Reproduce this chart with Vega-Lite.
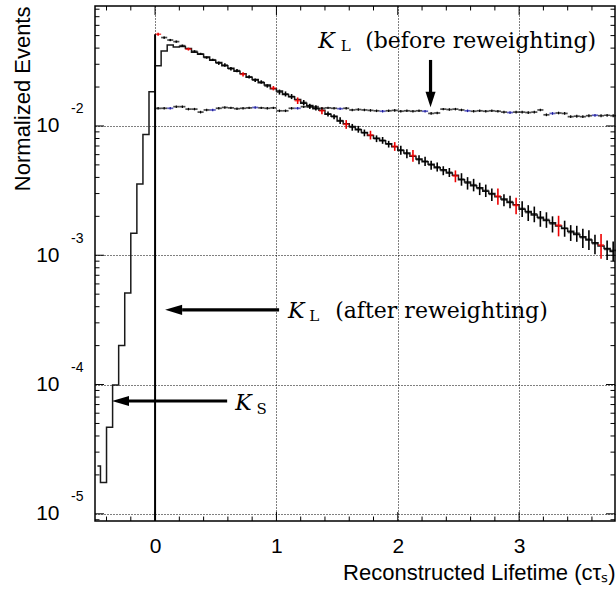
{
 "$schema": "https://vega.github.io/schema/vega-lite/v6.json",
 "width": 520, "height": 515,
 "autosize": {"type": "none"},
 "padding": {"left": 95, "top": 6, "right": 1, "bottom": 68},
 "background": "white",
 "config": {
  "view": {"stroke": "#000", "strokeWidth": 1.5},
  "axis": {"domain": false, "labelFont": "Liberation Sans", "titleFont": "Liberation Sans", "labelColor": "#000", "titleColor": "#000", "titleFontWeight": "normal", "labelOverlap": false, "labelFlush": false}
 },
 "datasets": {
  "ks": [
   {"x": -0.475, "v": 2.34e-5}, {"x": -0.425, "v": 1.75e-5}, {"x": -0.375, "v": 4.68e-5}, {"x": -0.325, "v": 9.9e-5},
   {"x": -0.275, "v": 2.0e-4}, {"x": -0.225, "v": 5.1e-4}, {"x": -0.175, "v": 1.48e-3}, {"x": -0.125, "v": 3.56e-3},
   {"x": -0.075, "v": 8.6e-3}, {"x": -0.025, "v": 0.0184}, {"x": 0.025, "v": 0.0292}, {"x": 0.075, "v": 0.038},
   {"x": 0.125, "v": 0.0423}, {"x": 0.175, "v": 0.0408}, {"x": 0.225, "v": 0.0412}, {"x": 0.275, "v": 0.0397},
   {"x": 0.325, "v": 0.0372}, {"x": 0.375, "v": 0.0358}, {"x": 0.425, "v": 0.0342}, {"x": 0.475, "v": 0.0322},
   {"x": 0.525, "v": 0.0309}, {"x": 0.575, "v": 0.0292}, {"x": 0.625, "v": 0.0280}, {"x": 0.675, "v": 0.0265},
   {"x": 0.725, "v": 0.0253}, {"x": 0.775, "v": 0.0238}, {"x": 0.825, "v": 0.0229}, {"x": 0.875, "v": 0.0216},
   {"x": 0.925, "v": 0.0207}, {"x": 0.975, "v": 0.0194}, {"x": 1.025, "v": 0.0186}, {"x": 1.075, "v": 0.0175},
   {"x": 1.125, "v": 0.0168}, {"x": 1.175, "v": 0.0160}, {"x": 1.225, "v": 0.0150}, {"x": 1.275, "v": 0.0144},
   {"x": 1.325, "v": 0.0136}, {"x": 1.375, "v": 0.0132}, {"x": 1.425, "v": 0.0123}, {"x": 1.475, "v": 0.0119},
   {"x": 1.525, "v": 0.0109}, {"x": 1.575, "v": 0.0104}, {"x": 1.625, "v": 0.00990}, {"x": 1.675, "v": 0.00935},
   {"x": 1.725, "v": 0.00892}, {"x": 1.775, "v": 0.00845}, {"x": 1.825, "v": 0.00805}, {"x": 1.875, "v": 0.00768},
   {"x": 1.925, "v": 0.00730}, {"x": 1.975, "v": 0.00690}, {"x": 2.025, "v": 0.00645}, {"x": 2.075, "v": 0.00618},
   {"x": 2.125, "v": 0.00582}, {"x": 2.175, "v": 0.00556}, {"x": 2.225, "v": 0.00528}, {"x": 2.275, "v": 0.00506},
   {"x": 2.325, "v": 0.00476}, {"x": 2.375, "v": 0.00458}, {"x": 2.425, "v": 0.00432}, {"x": 2.475, "v": 0.00415},
   {"x": 2.525, "v": 0.00384}, {"x": 2.575, "v": 0.00368}, {"x": 2.625, "v": 0.00345}, {"x": 2.675, "v": 0.00332},
   {"x": 2.725, "v": 0.00312}, {"x": 2.775, "v": 0.00300}, {"x": 2.825, "v": 0.00283}, {"x": 2.875, "v": 0.00272},
   {"x": 2.925, "v": 0.00256}, {"x": 2.975, "v": 0.00246}, {"x": 3.025, "v": 0.00227}, {"x": 3.075, "v": 0.00218},
   {"x": 3.125, "v": 0.00205}, {"x": 3.175, "v": 0.00197}, {"x": 3.225, "v": 0.00186}, {"x": 3.275, "v": 0.00178},
   {"x": 3.325, "v": 0.00168}, {"x": 3.375, "v": 0.00161}, {"x": 3.425, "v": 0.00153}, {"x": 3.475, "v": 0.00145},
   {"x": 3.525, "v": 0.00139}, {"x": 3.575, "v": 0.00131}, {"x": 3.625, "v": 0.00125}, {"x": 3.675, "v": 0.00118},
   {"x": 3.725, "v": 0.00113}, {"x": 3.775, "v": 0.00107}
  ],
  "kl": [
   {"x": 0.025, "v": 0.0512, "e": 0.0013, "c": "#ee0000"}, {"x": 0.075, "v": 0.0483, "e": 0.00097, "c": "#000"},
   {"x": 0.125, "v": 0.0462, "e": 0.00092, "c": "#000"}, {"x": 0.175, "v": 0.0449, "e": 0.0009, "c": "#000"},
   {"x": 0.225, "v": 0.0418, "e": 0.00084, "c": "#000"}, {"x": 0.275, "v": 0.0393, "e": 0.001, "c": "#ee0000"},
   {"x": 0.325, "v": 0.0378, "e": 0.00076, "c": "#000"}, {"x": 0.375, "v": 0.0361, "e": 0.00072, "c": "#000"},
   {"x": 0.425, "v": 0.0338, "e": 0.00068, "c": "#000"}, {"x": 0.475, "v": 0.0325, "e": 0.00065, "c": "#000"},
   {"x": 0.525, "v": 0.0306, "e": 0.00092, "c": "#000"}, {"x": 0.575, "v": 0.0296, "e": 0.00089, "c": "#000"},
   {"x": 0.625, "v": 0.0277, "e": 0.00083, "c": "#000"}, {"x": 0.675, "v": 0.0268, "e": 0.0008, "c": "#000"},
   {"x": 0.725, "v": 0.0251, "e": 0.00098, "c": "#ee0000"}, {"x": 0.775, "v": 0.0240, "e": 0.00072, "c": "#000"},
   {"x": 0.825, "v": 0.0226, "e": 0.00068, "c": "#000"}, {"x": 0.875, "v": 0.0219, "e": 0.00066, "c": "#000"},
   {"x": 0.925, "v": 0.0204, "e": 0.00061, "c": "#000"}, {"x": 0.975, "v": 0.0196, "e": 0.00076, "c": "#ee0000"},
   {"x": 1.025, "v": 0.0183, "e": 0.00082, "c": "#000"}, {"x": 1.075, "v": 0.0177, "e": 0.0008, "c": "#000"},
   {"x": 1.125, "v": 0.0169, "e": 0.00076, "c": "#000"}, {"x": 1.175, "v": 0.0157, "e": 0.00092, "c": "#ee0000"},
   {"x": 1.225, "v": 0.0152, "e": 0.00068, "c": "#000"}, {"x": 1.275, "v": 0.0142, "e": 0.00064, "c": "#000"},
   {"x": 1.325, "v": 0.0138, "e": 0.00062, "c": "#000"}, {"x": 1.375, "v": 0.0131, "e": 0.00077, "c": "#ee0000"},
   {"x": 1.425, "v": 0.0124, "e": 0.00056, "c": "#000"}, {"x": 1.475, "v": 0.0118, "e": 0.00053, "c": "#000"},
   {"x": 1.525, "v": 0.0110, "e": 0.00066, "c": "#000"}, {"x": 1.575, "v": 0.0103, "e": 0.0008, "c": "#ee0000"},
   {"x": 1.625, "v": 0.00978, "e": 0.00059, "c": "#000"}, {"x": 1.675, "v": 0.00944, "e": 0.00057, "c": "#000"},
   {"x": 1.725, "v": 0.00885, "e": 0.00053, "c": "#000"}, {"x": 1.775, "v": 0.00852, "e": 0.00066, "c": "#ee0000"},
   {"x": 1.825, "v": 0.00798, "e": 0.00048, "c": "#000"}, {"x": 1.875, "v": 0.00775, "e": 0.00047, "c": "#000"},
   {"x": 1.925, "v": 0.00724, "e": 0.00043, "c": "#000"}, {"x": 1.975, "v": 0.00696, "e": 0.00054, "c": "#ee0000"},
   {"x": 2.025, "v": 0.00652, "e": 0.00052, "c": "#000"}, {"x": 2.075, "v": 0.00611, "e": 0.00049, "c": "#000"},
   {"x": 2.125, "v": 0.00590, "e": 0.00061, "c": "#ee0000"}, {"x": 2.175, "v": 0.00549, "e": 0.00044, "c": "#000"},
   {"x": 2.225, "v": 0.00534, "e": 0.00043, "c": "#000"}, {"x": 2.275, "v": 0.00499, "e": 0.0004, "c": "#000"},
   {"x": 2.325, "v": 0.00483, "e": 0.00039, "c": "#000"}, {"x": 2.375, "v": 0.00452, "e": 0.00036, "c": "#000"},
   {"x": 2.425, "v": 0.00438, "e": 0.00035, "c": "#000"}, {"x": 2.475, "v": 0.00410, "e": 0.00043, "c": "#ee0000"},
   {"x": 2.525, "v": 0.00388, "e": 0.00043, "c": "#000"}, {"x": 2.575, "v": 0.00362, "e": 0.0004, "c": "#000"},
   {"x": 2.625, "v": 0.00351, "e": 0.00039, "c": "#000"}, {"x": 2.675, "v": 0.00328, "e": 0.00036, "c": "#000"},
   {"x": 2.725, "v": 0.00317, "e": 0.00035, "c": "#000"}, {"x": 2.775, "v": 0.00296, "e": 0.00033, "c": "#000"},
   {"x": 2.825, "v": 0.00287, "e": 0.00041, "c": "#ee0000"}, {"x": 2.875, "v": 0.00268, "e": 0.00029, "c": "#000"},
   {"x": 2.925, "v": 0.00260, "e": 0.00029, "c": "#000"}, {"x": 2.975, "v": 0.00243, "e": 0.00035, "c": "#ee0000"},
   {"x": 3.025, "v": 0.00230, "e": 0.00032, "c": "#000"}, {"x": 3.075, "v": 0.00214, "e": 0.0003, "c": "#000"},
   {"x": 3.125, "v": 0.00209, "e": 0.00029, "c": "#000"}, {"x": 3.175, "v": 0.00193, "e": 0.00027, "c": "#000"},
   {"x": 3.225, "v": 0.00189, "e": 0.00026, "c": "#000"}, {"x": 3.275, "v": 0.00175, "e": 0.00025, "c": "#000"},
   {"x": 3.325, "v": 0.00171, "e": 0.00031, "c": "#ee0000"}, {"x": 3.375, "v": 0.00162, "e": 0.00023, "c": "#000"},
   {"x": 3.425, "v": 0.00150, "e": 0.00021, "c": "#000"}, {"x": 3.475, "v": 0.00148, "e": 0.00021, "c": "#000"},
   {"x": 3.525, "v": 0.00137, "e": 0.00023, "c": "#000"}, {"x": 3.575, "v": 0.00133, "e": 0.00023, "c": "#000"},
   {"x": 3.625, "v": 0.00123, "e": 0.00021, "c": "#000"}, {"x": 3.675, "v": 0.00120, "e": 0.00026, "c": "#ee0000"},
   {"x": 3.725, "v": 0.00111, "e": 0.00019, "c": "#000"}, {"x": 3.775, "v": 0.00109, "e": 0.00019, "c": "#000"}
  ],
  "bef": [
   {"x": 0.025, "v": 0.0137, "e": 0.0003, "c": "#000"}, {"x": 0.075, "v": 0.0137, "e": 0.0003, "c": "#000"}, {"x": 0.125, "v": 0.0137, "e": 0.0003, "c": "#1a1aa0"},
   {"x": 0.175, "v": 0.0141, "e": 0.0003, "c": "#000"}, {"x": 0.225, "v": 0.0141, "e": 0.0003, "c": "#000"}, {"x": 0.275, "v": 0.0135, "e": 0.0003, "c": "#000"},
   {"x": 0.325, "v": 0.0135, "e": 0.0003, "c": "#000"}, {"x": 0.375, "v": 0.0128, "e": 0.0003, "c": "#000"}, {"x": 0.425, "v": 0.0133, "e": 0.0003, "c": "#000"},
   {"x": 0.475, "v": 0.0133, "e": 0.0003, "c": "#1a1aa0"}, {"x": 0.525, "v": 0.0137, "e": 0.0003, "c": "#000"}, {"x": 0.575, "v": 0.0139, "e": 0.0003, "c": "#000"},
   {"x": 0.625, "v": 0.0138, "e": 0.0003, "c": "#000"}, {"x": 0.675, "v": 0.0136, "e": 0.0003, "c": "#000"}, {"x": 0.725, "v": 0.0137, "e": 0.0003, "c": "#000"},
   {"x": 0.775, "v": 0.0138, "e": 0.0003, "c": "#000"}, {"x": 0.825, "v": 0.0139, "e": 0.0003, "c": "#1a1aa0"}, {"x": 0.875, "v": 0.0138, "e": 0.0003, "c": "#000"},
   {"x": 0.925, "v": 0.0137, "e": 0.0003, "c": "#000"}, {"x": 0.975, "v": 0.0138, "e": 0.0003, "c": "#000"}, {"x": 1.025, "v": 0.0131, "e": 0.0003, "c": "#000"},
   {"x": 1.075, "v": 0.0131, "e": 0.0003, "c": "#000"}, {"x": 1.125, "v": 0.0137, "e": 0.0003, "c": "#000"}, {"x": 1.175, "v": 0.0137, "e": 0.0003, "c": "#1a1aa0"},
   {"x": 1.225, "v": 0.0141, "e": 0.0003, "c": "#000"}, {"x": 1.275, "v": 0.0140, "e": 0.0003, "c": "#000"}, {"x": 1.325, "v": 0.0141, "e": 0.0003, "c": "#000"},
   {"x": 1.375, "v": 0.0137, "e": 0.0003, "c": "#000"}, {"x": 1.425, "v": 0.0138, "e": 0.0003, "c": "#000"}, {"x": 1.475, "v": 0.0137, "e": 0.0003, "c": "#000"},
   {"x": 1.525, "v": 0.0136, "e": 0.0003, "c": "#1a1aa0"}, {"x": 1.575, "v": 0.0137, "e": 0.0003, "c": "#000"}, {"x": 1.625, "v": 0.0133, "e": 0.0003, "c": "#000"},
   {"x": 1.675, "v": 0.0134, "e": 0.0003, "c": "#000"}, {"x": 1.725, "v": 0.0133, "e": 0.0003, "c": "#000"}, {"x": 1.775, "v": 0.0132, "e": 0.0003, "c": "#000"},
   {"x": 1.825, "v": 0.0131, "e": 0.0003, "c": "#000"}, {"x": 1.875, "v": 0.0130, "e": 0.0003, "c": "#1a1aa0"}, {"x": 1.925, "v": 0.0131, "e": 0.0003, "c": "#000"},
   {"x": 1.975, "v": 0.0132, "e": 0.0003, "c": "#000"}, {"x": 2.025, "v": 0.0130, "e": 0.0003, "c": "#000"}, {"x": 2.075, "v": 0.0131, "e": 0.0003, "c": "#000"},
   {"x": 2.125, "v": 0.0130, "e": 0.0003, "c": "#000"}, {"x": 2.175, "v": 0.0131, "e": 0.0003, "c": "#000"}, {"x": 2.225, "v": 0.0130, "e": 0.0003, "c": "#1a1aa0"},
   {"x": 2.275, "v": 0.0125, "e": 0.0003, "c": "#000"}, {"x": 2.325, "v": 0.0126, "e": 0.0003, "c": "#000"}, {"x": 2.375, "v": 0.0135, "e": 0.0003, "c": "#000"},
   {"x": 2.425, "v": 0.0134, "e": 0.0003, "c": "#000"}, {"x": 2.475, "v": 0.0135, "e": 0.0003, "c": "#000"}, {"x": 2.525, "v": 0.0133, "e": 0.0003, "c": "#000"},
   {"x": 2.575, "v": 0.0131, "e": 0.0003, "c": "#1a1aa0"}, {"x": 2.625, "v": 0.0130, "e": 0.0003, "c": "#000"}, {"x": 2.675, "v": 0.0131, "e": 0.0003, "c": "#000"},
   {"x": 2.725, "v": 0.0130, "e": 0.0003, "c": "#000"}, {"x": 2.775, "v": 0.0131, "e": 0.0003, "c": "#000"}, {"x": 2.825, "v": 0.0130, "e": 0.0003, "c": "#000"},
   {"x": 2.875, "v": 0.0128, "e": 0.0003, "c": "#000"}, {"x": 2.925, "v": 0.0127, "e": 0.0003, "c": "#1a1aa0"}, {"x": 2.975, "v": 0.0128, "e": 0.0003, "c": "#000"},
   {"x": 3.025, "v": 0.0128, "e": 0.0003, "c": "#000"}, {"x": 3.075, "v": 0.0127, "e": 0.0003, "c": "#000"}, {"x": 3.125, "v": 0.0128, "e": 0.0003, "c": "#000"},
   {"x": 3.175, "v": 0.0133, "e": 0.0003, "c": "#000"}, {"x": 3.225, "v": 0.0122, "e": 0.0003, "c": "#000"}, {"x": 3.275, "v": 0.0125, "e": 0.0003, "c": "#1a1aa0"},
   {"x": 3.325, "v": 0.0126, "e": 0.0003, "c": "#000"}, {"x": 3.375, "v": 0.0125, "e": 0.0003, "c": "#000"}, {"x": 3.425, "v": 0.0118, "e": 0.0003, "c": "#000"},
   {"x": 3.475, "v": 0.0119, "e": 0.0003, "c": "#000"}, {"x": 3.525, "v": 0.0118, "e": 0.0003, "c": "#000"}, {"x": 3.575, "v": 0.0120, "e": 0.0003, "c": "#000"},
   {"x": 3.625, "v": 0.0121, "e": 0.0003, "c": "#1a1aa0"}, {"x": 3.675, "v": 0.0120, "e": 0.0003, "c": "#000"}, {"x": 3.725, "v": 0.0121, "e": 0.0003, "c": "#000"},
   {"x": 3.775, "v": 0.0120, "e": 0.0003, "c": "#000"}
  ],
  "xt": [
   {"x": 0, "y": 8.8e-6, "y2": 1.033e-5}, {"x": 1, "y": 8.8e-6, "y2": 1.033e-5}, {"x": 2, "y": 8.8e-6, "y2": 1.033e-5}, {"x": 3, "y": 8.8e-6, "y2": 1.033e-5},
   {"x": 0, "y": 0.0847, "y2": 0.0721}, {"x": 1, "y": 0.0847, "y2": 0.0721}, {"x": 2, "y": 0.0847, "y2": 0.0721}, {"x": 3, "y": 0.0847, "y2": 0.0721},
   {"x": -0.4, "y": 8.8e-6, "y2": 9.53e-6}, {"x": -0.2, "y": 8.8e-6, "y2": 9.53e-6}, {"x": 0.2, "y": 8.8e-6, "y2": 9.53e-6}, {"x": 0.4, "y": 8.8e-6, "y2": 9.53e-6},
   {"x": 0.6, "y": 8.8e-6, "y2": 9.53e-6}, {"x": 0.8, "y": 8.8e-6, "y2": 9.53e-6}, {"x": 1.2, "y": 8.8e-6, "y2": 9.53e-6}, {"x": 1.4, "y": 8.8e-6, "y2": 9.53e-6},
   {"x": 1.6, "y": 8.8e-6, "y2": 9.53e-6}, {"x": 1.8, "y": 8.8e-6, "y2": 9.53e-6}, {"x": 2.2, "y": 8.8e-6, "y2": 9.53e-6}, {"x": 2.4, "y": 8.8e-6, "y2": 9.53e-6},
   {"x": 2.6, "y": 8.8e-6, "y2": 9.53e-6}, {"x": 2.8, "y": 8.8e-6, "y2": 9.53e-6}, {"x": 3.2, "y": 8.8e-6, "y2": 9.53e-6}, {"x": 3.4, "y": 8.8e-6, "y2": 9.53e-6},
   {"x": 3.6, "y": 8.8e-6, "y2": 9.53e-6},
   {"x": -0.4, "y": 0.0847, "y2": 0.0782}, {"x": -0.2, "y": 0.0847, "y2": 0.0782}, {"x": 0.2, "y": 0.0847, "y2": 0.0782}, {"x": 0.4, "y": 0.0847, "y2": 0.0782},
   {"x": 0.6, "y": 0.0847, "y2": 0.0782}, {"x": 0.8, "y": 0.0847, "y2": 0.0782}, {"x": 1.2, "y": 0.0847, "y2": 0.0782}, {"x": 1.4, "y": 0.0847, "y2": 0.0782},
   {"x": 1.6, "y": 0.0847, "y2": 0.0782}, {"x": 1.8, "y": 0.0847, "y2": 0.0782}, {"x": 2.2, "y": 0.0847, "y2": 0.0782}, {"x": 2.4, "y": 0.0847, "y2": 0.0782},
   {"x": 2.6, "y": 0.0847, "y2": 0.0782}, {"x": 2.8, "y": 0.0847, "y2": 0.0782}, {"x": 3.2, "y": 0.0847, "y2": 0.0782}, {"x": 3.4, "y": 0.0847, "y2": 0.0782},
   {"x": 3.6, "y": 0.0847, "y2": 0.0782}
  ],
  "yt": [
   {"y": 1e-5, "x": -0.495, "x2": -0.4208}, {"y": 1e-4, "x": -0.495, "x2": -0.4208}, {"y": 1e-3, "x": -0.495, "x2": -0.4208}, {"y": 1e-2, "x": -0.495, "x2": -0.4208},
   {"y": 1e-5, "x": 3.79, "x2": 3.7158}, {"y": 1e-4, "x": 3.79, "x2": 3.7158}, {"y": 1e-3, "x": 3.79, "x2": 3.7158}, {"y": 1e-2, "x": 3.79, "x2": 3.7158},
   {"y": 9e-6, "x": -0.495, "x2": -0.4579}, {"y": 2e-5, "x": -0.495, "x2": -0.4579}, {"y": 3e-5, "x": -0.495, "x2": -0.4579}, {"y": 4e-5, "x": -0.495, "x2": -0.4579},
   {"y": 5e-5, "x": -0.495, "x2": -0.4579}, {"y": 6e-5, "x": -0.495, "x2": -0.4579}, {"y": 7e-5, "x": -0.495, "x2": -0.4579}, {"y": 8e-5, "x": -0.495, "x2": -0.4579},
   {"y": 9e-5, "x": -0.495, "x2": -0.4579}, {"y": 2e-4, "x": -0.495, "x2": -0.4579}, {"y": 3e-4, "x": -0.495, "x2": -0.4579}, {"y": 4e-4, "x": -0.495, "x2": -0.4579},
   {"y": 5e-4, "x": -0.495, "x2": -0.4579}, {"y": 6e-4, "x": -0.495, "x2": -0.4579}, {"y": 7e-4, "x": -0.495, "x2": -0.4579}, {"y": 8e-4, "x": -0.495, "x2": -0.4579},
   {"y": 9e-4, "x": -0.495, "x2": -0.4579}, {"y": 2e-3, "x": -0.495, "x2": -0.4579}, {"y": 3e-3, "x": -0.495, "x2": -0.4579}, {"y": 4e-3, "x": -0.495, "x2": -0.4579},
   {"y": 5e-3, "x": -0.495, "x2": -0.4579}, {"y": 6e-3, "x": -0.495, "x2": -0.4579}, {"y": 7e-3, "x": -0.495, "x2": -0.4579}, {"y": 8e-3, "x": -0.495, "x2": -0.4579},
   {"y": 9e-3, "x": -0.495, "x2": -0.4579}, {"y": 2e-2, "x": -0.495, "x2": -0.4579}, {"y": 3e-2, "x": -0.495, "x2": -0.4579}, {"y": 4e-2, "x": -0.495, "x2": -0.4579},
   {"y": 5e-2, "x": -0.495, "x2": -0.4579}, {"y": 6e-2, "x": -0.495, "x2": -0.4579}, {"y": 7e-2, "x": -0.495, "x2": -0.4579}, {"y": 8e-2, "x": -0.495, "x2": -0.4579},
   {"y": 9e-6, "x": 3.79, "x2": 3.7529}, {"y": 2e-5, "x": 3.79, "x2": 3.7529}, {"y": 3e-5, "x": 3.79, "x2": 3.7529}, {"y": 4e-5, "x": 3.79, "x2": 3.7529},
   {"y": 5e-5, "x": 3.79, "x2": 3.7529}, {"y": 6e-5, "x": 3.79, "x2": 3.7529}, {"y": 7e-5, "x": 3.79, "x2": 3.7529}, {"y": 8e-5, "x": 3.79, "x2": 3.7529},
   {"y": 9e-5, "x": 3.79, "x2": 3.7529}, {"y": 2e-4, "x": 3.79, "x2": 3.7529}, {"y": 3e-4, "x": 3.79, "x2": 3.7529}, {"y": 4e-4, "x": 3.79, "x2": 3.7529},
   {"y": 5e-4, "x": 3.79, "x2": 3.7529}, {"y": 6e-4, "x": 3.79, "x2": 3.7529}, {"y": 7e-4, "x": 3.79, "x2": 3.7529}, {"y": 8e-4, "x": 3.79, "x2": 3.7529},
   {"y": 9e-4, "x": 3.79, "x2": 3.7529}, {"y": 2e-3, "x": 3.79, "x2": 3.7529}, {"y": 3e-3, "x": 3.79, "x2": 3.7529}, {"y": 4e-3, "x": 3.79, "x2": 3.7529},
   {"y": 5e-3, "x": 3.79, "x2": 3.7529}, {"y": 6e-3, "x": 3.79, "x2": 3.7529}, {"y": 7e-3, "x": 3.79, "x2": 3.7529}, {"y": 8e-3, "x": 3.79, "x2": 3.7529},
   {"y": 9e-3, "x": 3.79, "x2": 3.7529}, {"y": 2e-2, "x": 3.79, "x2": 3.7529}, {"y": 3e-2, "x": 3.79, "x2": 3.7529}, {"y": 4e-2, "x": 3.79, "x2": 3.7529},
   {"y": 5e-2, "x": 3.79, "x2": 3.7529}, {"y": 6e-2, "x": 3.79, "x2": 3.7529}, {"y": 7e-2, "x": 3.79, "x2": 3.7529}, {"y": 8e-2, "x": 3.79, "x2": 3.7529}
  ]
 },
 "resolve": {"axis": {"x": "independent", "y": "independent"}},
 "layer": [
  {
   "data": {"name": "ks"},
   "mark": {"type": "line", "interpolate": "step", "color": "#1a1a1a", "strokeWidth": 1.5, "clip": true},
   "encoding": {
    "x": {"field": "x", "type": "quantitative", "scale": {"domain": [-0.495, 3.79], "nice": false, "zero": false},
     "axis": {"orient": "bottom", "values": [0, 1, 2, 3], "format": "d", "ticks": false, "grid": true, "gridDash": [1, 2], "gridColor": "#000", "gridWidth": 1, "labelFontSize": 21, "labelPadding": 14,
      "title": "Reconstructed Lifetime (cτₛ)", "titleFontSize": 22, "titleAnchor": "end", "titlePadding": 6}},
    "y": {"field": "v", "type": "quantitative", "scale": {"type": "log", "domain": [8.8e-6, 0.0847], "nice": false},
     "axis": {"orient": "left", "values": [1e-5, 1e-4, 1e-3, 1e-2], "labelExpr": "'10'", "ticks": false, "grid": true, "gridDash": [1, 2], "gridColor": "#000", "gridWidth": 1, "labelFontSize": 21, "labelPadding": 36, "labelBaseline": "middle",
      "title": "Normalized Events", "titleFontSize": 22, "titleAnchor": "end", "titlePadding": 1}}
   }
  },
  {
   "data": {"name": "kl"},
   "mark": {"type": "tick", "orient": "horizontal", "size": 6.1, "thickness": 1.7},
   "encoding": {
    "x": {"field": "x", "type": "quantitative", "axis": null},
    "y": {"field": "v", "type": "quantitative",
     "axis": {"orient": "left", "values": [1e-5, 1e-4, 1e-3, 1e-2], "ticks": false, "grid": false, "title": null, "labelFontSize": 14, "labelPadding": 12, "labelOffset": -17, "labelBaseline": "middle",
      "labelExpr": "datum.value < 5e-5 ? '-5' : datum.value < 5e-4 ? '-4' : datum.value < 5e-3 ? '-3' : '-2'"}},
    "color": {"field": "c", "type": "nominal", "scale": null}
   }
  },
  {
   "data": {"name": "kl"},
   "mark": {"type": "errorbar", "thickness": 1.6},
   "encoding": {
    "x": {"field": "x", "type": "quantitative", "axis": null},
    "y": {"field": "v", "type": "quantitative", "axis": null},
    "yError": {"field": "e"},
    "color": {"field": "c", "type": "nominal", "scale": null}
   }
  },
  {
   "data": {"name": "bef"},
   "mark": {"type": "tick", "orient": "horizontal", "size": 6.1, "thickness": 1.7},
   "encoding": {
    "x": {"field": "x", "type": "quantitative", "axis": null},
    "y": {"field": "v", "type": "quantitative", "axis": null},
    "color": {"field": "c", "type": "nominal", "scale": null}
   }
  },
  {
   "data": {"name": "bef"},
   "mark": {"type": "errorbar", "thickness": 1.2},
   "encoding": {
    "x": {"field": "x", "type": "quantitative", "axis": null},
    "y": {"field": "v", "type": "quantitative", "axis": null},
    "yError": {"field": "e"},
    "color": {"field": "c", "type": "nominal", "scale": null}
   }
  },
  {
   "data": {"name": "xt"},
   "mark": {"type": "rule", "color": "#000", "strokeWidth": 1},
   "encoding": {"x": {"field": "x", "type": "quantitative", "axis": null}, "y": {"field": "y", "type": "quantitative", "axis": null}, "y2": {"field": "y2"}}
  },
  {
   "data": {"name": "yt"},
   "mark": {"type": "rule", "color": "#000", "strokeWidth": 1},
   "encoding": {"x": {"field": "x", "type": "quantitative", "axis": null}, "x2": {"field": "x2"}, "y": {"field": "y", "type": "quantitative", "axis": null}}
  },
  {
   "data": {"values": [{"x": 0, "y": 8.8e-6, "y2": 0.0512}]},
   "mark": {"type": "rule", "color": "#000", "strokeWidth": 2},
   "encoding": {"x": {"field": "x", "type": "quantitative", "axis": null}, "y": {"field": "y", "type": "quantitative", "axis": null}, "y2": {"field": "y2"}}
  },
  {
   "data": {"values": [
    {"x": 2.27, "x2": 2.27, "y": 0.0324, "y2": 0.0183},
    {"x": 0.223, "x2": 1.022, "y": 3.78e-4, "y2": 3.78e-4},
    {"x": -0.223, "x2": 0.594, "y": 7.46e-5, "y2": 7.46e-5}
   ]},
   "mark": {"type": "rule", "color": "#000", "strokeWidth": 3.2},
   "encoding": {"x": {"field": "x", "type": "quantitative", "axis": null}, "x2": {"field": "x2"}, "y": {"field": "y", "type": "quantitative", "axis": null}, "y2": {"field": "y2"}}
  },
  {
   "data": {"values": [
    {"x": 0.153, "y": 3.78e-4},
    {"x": -0.285, "y": 7.46e-5}
   ]},
   "mark": {"type": "point", "shape": "M1,-0.6L1,0.6L-1,0Z", "size": 289, "filled": true, "color": "#000", "opacity": 1},
   "encoding": {"x": {"field": "x", "type": "quantitative", "axis": null}, "y": {"field": "y", "type": "quantitative", "axis": null}}
  },
  {
   "data": {"values": [{"x": 2.27, "y": 0.016}]},
   "mark": {"type": "point", "shape": "M-0.65,-1L0.65,-1L0,1Z", "size": 240, "filled": true, "color": "#000", "opacity": 1},
   "encoding": {"x": {"field": "x", "type": "quantitative", "axis": null}, "y": {"field": "y", "type": "quantitative", "axis": null}}
  },
  {
   "data": {"values": [
    {"x": 1.344, "y": 0.0401, "t": "K"},
    {"x": 1.096, "y": 3.26e-4, "t": "K"},
    {"x": 0.66, "y": 6.37e-5, "t": "K"}
   ]},
   "mark": {"type": "text", "font": "DejaVu Serif", "fontStyle": "italic", "fontSize": 22, "align": "left", "baseline": "alphabetic", "color": "#000"},
   "encoding": {"x": {"field": "x", "type": "quantitative", "axis": null}, "y": {"field": "y", "type": "quantitative", "axis": null}, "text": {"field": "t"}}
  },
  {
   "data": {"values": [
    {"x": 1.53, "y": 0.038, "t": "L"},
    {"x": 1.27, "y": 3.1e-4, "t": "L"},
    {"x": 0.835, "y": 5.93e-5, "t": "S"}
   ]},
   "mark": {"type": "text", "font": "DejaVu Serif", "fontSize": 15, "align": "left", "baseline": "alphabetic", "color": "#000"},
   "encoding": {"x": {"field": "x", "type": "quantitative", "axis": null}, "y": {"field": "y", "type": "quantitative", "axis": null}, "text": {"field": "t"}}
  },
  {
   "data": {"values": [
    {"x": 1.731, "y": 0.0401, "t": "(before reweighting)"},
    {"x": 1.484, "y": 3.26e-4, "t": "(after reweighting)"}
   ]},
   "mark": {"type": "text", "font": "DejaVu Serif", "fontSize": 22, "align": "left", "baseline": "alphabetic", "color": "#000"},
   "encoding": {"x": {"field": "x", "type": "quantitative", "axis": null}, "y": {"field": "y", "type": "quantitative", "axis": null}, "text": {"field": "t"}}
  }
 ]
}
